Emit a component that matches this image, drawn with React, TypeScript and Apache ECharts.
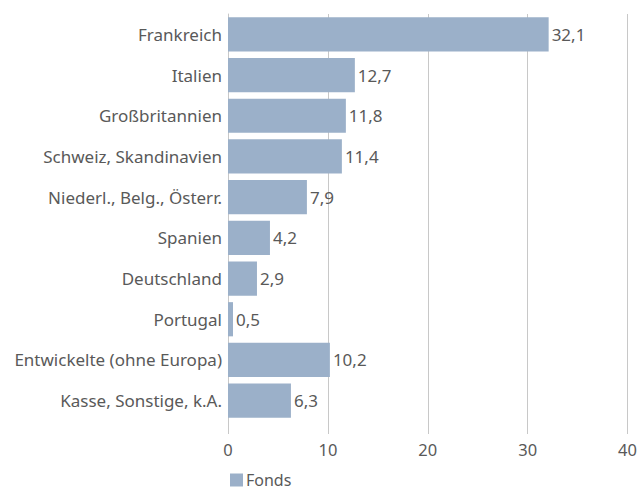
import React, { useEffect, useRef } from "react";
import * as echarts from "echarts";

const categories = [
  "Frankreich",
  "Italien",
  "Großbritannien",
  "Schweiz, Skandinavien",
  "Niederl., Belg., Österr.",
  "Spanien",
  "Deutschland",
  "Portugal",
  "Entwickelte (ohne Europa)",
  "Kasse, Sonstige, k.A.",
];
const fondsValues = [32.1, 12.7, 11.8, 11.4, 7.9, 4.2, 2.9, 0.5, 10.2, 6.3];
const seriesName = "Fonds";

const textColor = "#595959";
const font = "Noto Sans";

export default function App() {
  const ref = useRef<HTMLDivElement>(null);
  useEffect(() => {
    if (!ref.current) return;
    const chart = echarts.init(ref.current, null, { renderer: "svg" });
    chart.setOption({
      animation: false,
      textStyle: { fontFamily: font },
      grid: { left: 228, right: 12, top: 14, height: 407, containLabel: false },
      legend: {
        data: [seriesName],
        left: 225,
        top: 472,
        padding: [0, 5, 0, 5],
        icon: "rect",
        itemWidth: 13,
        itemHeight: 13,
        itemGap: 4,
        textStyle: { color: textColor, fontSize: 16, lineHeight: 16, fontFamily: font, padding: [0, 0, 0, -2] },
      },
      xAxis: {
        type: "value",
        min: 0,
        max: 40,
        interval: 10,
        axisLine: { show: false },
        axisTick: { show: true, length: 13, lineStyle: { color: "#c8c8c8" } },
        splitLine: { show: true, lineStyle: { color: "#c8c8c8", width: 1 } },
        axisLabel: { color: textColor, fontSize: 16.5, margin: 20, fontFamily: font },
      },
      yAxis: {
        type: "category",
        data: categories,
        inverse: true,
        axisLine: { show: true, lineStyle: { color: "#c8c8c8" } },
        axisTick: { show: false },
        axisLabel: { color: textColor, fontSize: 17, margin: 6, fontFamily: font },
      },
      series: [
        {
          name: seriesName,
          type: "bar",
          data: fondsValues,
          barCategoryGap: "16%",
          itemStyle: { color: "#9bb0c9" },
          label: {
            show: true,
            position: "right",
            distance: 3,
            color: textColor,
            fontSize: 17,
            fontFamily: font,
            formatter: (p: any) => String(p.value).replace(".", ","),
          },
        },
      ],
    });
    return () => chart.dispose();
  }, []);
  return <div ref={ref} style={{ width: 640, height: 493, position: "absolute", left: 0, top: 0 }} />;
}
